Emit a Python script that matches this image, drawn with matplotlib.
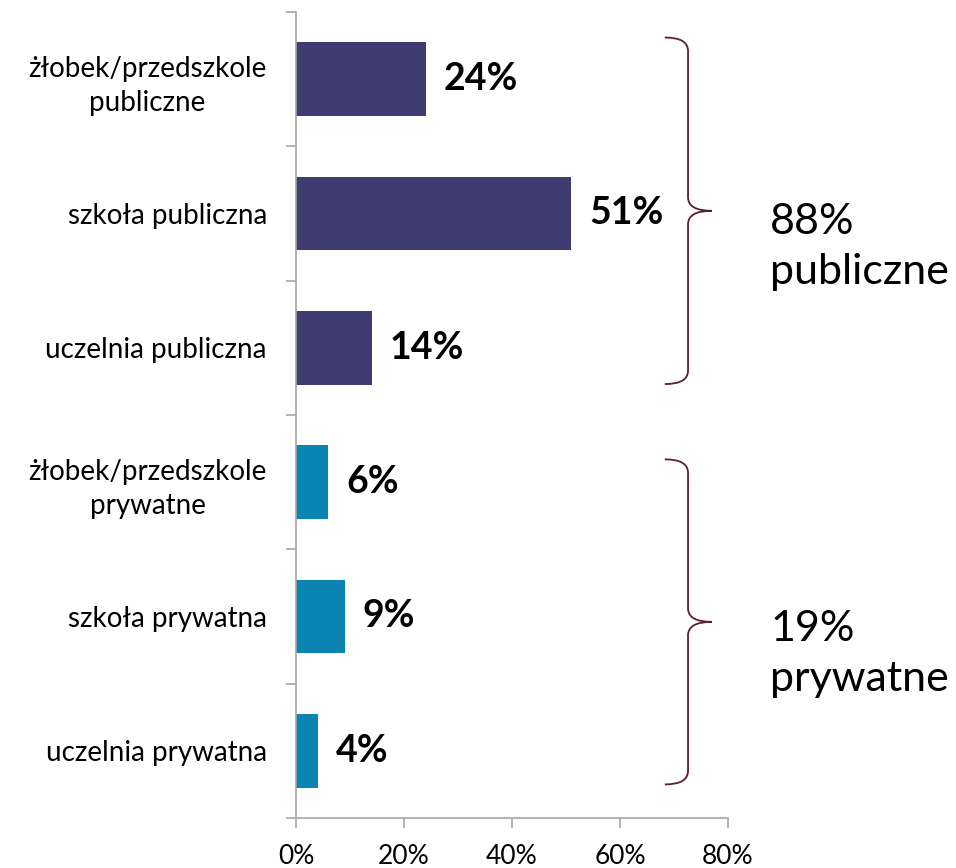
import matplotlib
matplotlib.use("Agg")
from matplotlib import pyplot as plt
from matplotlib.path import Path
from matplotlib.patches import PathPatch
from matplotlib.ticker import FixedLocator, FuncFormatter

plt.rcParams['font.family'] = ['Lato', 'DejaVu Sans']

kategorie = ["żłobek/przedszkole\npubliczne", "szkoła publiczna", "uczelnia publiczna",
             "żłobek/przedszkole\nprywatne", "szkoła prywatna", "uczelnia prywatna"]
wartosci = [24, 51, 14, 6, 9, 4]
kolory = ["#3f3c71"] * 3 + ["#0b84b1"] * 3
grupy = ["88%\npubliczne", "19%\nprywatne"]
x_ticks = [0, 20, 40, 60, 80]

szary = "#a6a6a6"
kolor_klamry = "#5b1f2e"


def klamra(ax, x, y0, y1, ym, szer, czubek, r):
    # klamra "}" rysowana w ukladzie danych (os y odwrocona)
    wierz = [(x - szer, y0), (x, y0), (x, y0 + r),
             (x, ym - r), (x, ym), (x + czubek, ym),
             (x, ym), (x, ym + r),
             (x, y1 - r), (x, y1), (x - szer, y1)]
    kody = [Path.MOVETO, Path.CURVE3, Path.CURVE3,
            Path.LINETO, Path.CURVE3, Path.CURVE3,
            Path.CURVE3, Path.CURVE3,
            Path.LINETO, Path.CURVE3, Path.CURVE3]
    ax.add_patch(PathPatch(Path(wierz, kody), fill=False, edgecolor=kolor_klamry,
                           linewidth=1.3, clip_on=False))


fig = plt.figure(figsize=(9.56, 8.68), dpi=100)
ax = fig.add_axes([0.3096, 0.0576, 0.4519, 0.9286])

pozycje = list(range(len(kategorie)))
ax.barh(pozycje, wartosci, height=0.55, color=kolory)

for p, v in zip(pozycje, wartosci):
    ax.annotate(f"{v}%", (v, p), xytext=(13, 0), textcoords="offset points",
                va="center", ha="left", fontsize=27, fontweight="bold", color="black")

ax.set_xlim(0, 80)
ax.set_ylim(5.5, -0.5)

ax.set_yticks(pozycje)
ax.set_yticklabels(kategorie, fontsize=20, multialignment="center", linespacing=1.4)
ax.tick_params(axis="y", which="major", length=0, pad=21)
ax.yaxis.set_minor_locator(FixedLocator([i - 0.5 for i in range(len(kategorie) + 1)]))
ax.tick_params(axis="y", which="minor", length=7, width=1.2, color=szary, direction="out")

ax.set_xticks(x_ticks)
ax.xaxis.set_major_formatter(FuncFormatter(lambda v, _: f"{v:.0f}%"))
ax.tick_params(axis="x", length=7, width=1.2, color=szary, labelsize=19, pad=12)

for s in ["top", "right"]:
    ax.spines[s].set_visible(False)
for s in ["left", "bottom"]:
    ax.spines[s].set_color(szary)
    ax.spines[s].set_linewidth(1.2)

klamra(ax, 72.6, -0.31, 2.27, 0.98, 4.3, 4.4, 0.1)
klamra(ax, 72.6, 2.83, 5.25, 4.04, 4.3, 4.4, 0.1)

ax.text(87.8, 1.25, grupy[0], fontsize=31, ha="left", va="center", linespacing=1.4)
ax.text(87.8, 4.28, grupy[1], fontsize=31, ha="left", va="center", linespacing=1.4)

fig.savefig("out.png", dpi=100)
